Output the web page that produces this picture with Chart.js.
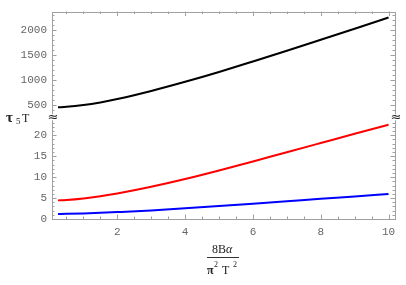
<!DOCTYPE html>
<html>
<head>
<meta charset="utf-8">
<script src="https://cdn.jsdelivr.net/npm/chart.js@4/dist/chart.umd.min.js"></script>
<style>
html, body { margin: 0; padding: 0; background: #fff; }
#wrap { width: 406px; height: 285px; }
</style>
</head>
<body>
<div id="wrap"><canvas id="chart"></canvas></div>
<script>
// values
const xVals = [0.25, 0.5, 1, 1.5, 2, 3, 4, 5, 6, 7, 8, 9, 10];
const blackVals = [446, 456, 492, 545, 612, 775, 958, 1155, 1365, 1580, 1800, 2022, 2245];
const redVals = [4.45, 4.55, 4.92, 5.45, 6.1, 7.7, 9.55, 11.6, 13.75, 15.95, 18.15, 20.35, 22.5];
const blueVals = [1.2, 1.23, 1.32, 1.47, 1.65, 2.05, 2.55, 3.1, 3.67, 4.25, 4.85, 5.4, 5.97];

const xTicks = [2, 4, 6, 8, 10];
const lowTicks = [0, 5, 10, 15, 20];
const highTicks = [500, 1000, 1500, 2000];

const tickFont = { family: 'Liberation Mono', size: 11 };
const tickColor = '#666';
const frameColor = '#a0a0a0';

function pts(ys) {
    return xVals.map((x, i) => ({ x: x, y: ys[i] }));
}

function fixTicks(list) {
    return scale => { scale.ticks = list.map(v => ({ value: v })); };
}

// frame, inward tick marks, break marks and the axis titles
const framePlugin = {
    id: 'frame',
    beforeDatasetsDraw(chart) {
        const ctx = chart.ctx;
        const a = chart.chartArea;
        const sx = chart.scales.x, lo = chart.scales.yLow, hi = chart.scales.yHigh;
        ctx.save();
        ctx.strokeStyle = frameColor;
        ctx.lineWidth = 1;
        ctx.strokeRect(Math.round(a.left) + 0.5, Math.round(a.top) + 0.5,
            Math.round(a.right - a.left), Math.round(a.bottom - a.top));

        function hTick(y, len) {
            y = Math.round(y) + 0.5;
            ctx.beginPath();
            ctx.moveTo(a.left, y); ctx.lineTo(a.left + len, y);
            ctx.moveTo(a.right, y); ctx.lineTo(a.right - len, y);
            ctx.stroke();
        }
        function vTick(x, len) {
            x = Math.round(x) + 0.5;
            ctx.beginPath();
            ctx.moveTo(x, a.bottom); ctx.lineTo(x, a.bottom - len);
            ctx.moveTo(x, a.top); ctx.lineTo(x, a.top + len);
            ctx.stroke();
        }
        for (let v = 0.5; v <= 10; v += 0.5) {
            vTick(sx.getPixelForValue(v), v % 2 === 0 ? 4.5 : 2.5);
        }
        for (let v = 0; v <= 24; v++) {
            hTick(lo.getPixelForValue(v), v % 5 === 0 ? 4.5 : 2.5);
        }
        for (let v = 300; v <= 2300; v += 100) {
            hTick(hi.getPixelForValue(v), v % 500 === 0 ? 4.5 : 2.5);
        }

        // break marks
        const yb = lo.top;
        ctx.fillStyle = '#fff';
        ctx.fillRect(a.left - 3, yb - 3, 7, 6);
        ctx.fillRect(a.right - 3, yb - 3, 7, 6);
        ctx.fillStyle = '#222';
        ctx.font = '13px "DejaVu Sans"';
        ctx.textAlign = 'center';
        ctx.textBaseline = 'middle';
        ctx.fillText('\u2248', a.left + 1, yb);
        ctx.fillText('\u2248', a.right + 1, yb);

        // y title
        ctx.textAlign = 'left';
        ctx.textBaseline = 'alphabetic';
        ctx.fillStyle = '#222';
        ctx.font = 'bold 15px "Liberation Serif"';
        ctx.fillText('\u03c4', 6, 122);
        ctx.font = '9px "Liberation Serif"';
        ctx.fillText('5', 16, 124);
        ctx.font = '12px "Liberation Serif"';
        ctx.fillText('T', 22, 122);

        // x title as a fraction
        ctx.font = '12px "Liberation Serif"';
        ctx.fillText('8', 212, 253);
        ctx.fillText('B', 218, 253);
        ctx.font = 'italic 12px "Liberation Serif"';
        ctx.fillText('\u03b1', 226, 253);
        ctx.strokeStyle = '#333';
        ctx.beginPath();
        ctx.moveTo(207, 257.5); ctx.lineTo(239, 257.5);
        ctx.stroke();
        ctx.font = 'bold 12px "Liberation Serif"';
        ctx.fillText('\u03c0', 207, 274);
        ctx.font = '12px "Liberation Serif"';
        ctx.fillText('T', 222, 274);
        ctx.font = '8px "Liberation Serif"';
        ctx.fillText('2', 214, 267);
        ctx.fillText('2', 233, 267);
        ctx.restore();
    }
};

const plainLabel = v => String(v);

new Chart(document.getElementById('chart'), {
    type: 'line',
    data: {
        datasets: [
            { data: pts(blackVals), yAxisID: 'yHigh', borderColor: '#000' },
            { data: pts(redVals), yAxisID: 'yLow', borderColor: '#ff0000' },
            { data: pts(blueVals), yAxisID: 'yLow', borderColor: '#0000ff' }
        ]
    },
    options: {
        responsive: true,
        maintainAspectRatio: false,
        animation: false,
        layout: { padding: { left: 0, right: 11, top: 11, bottom: 0 } },
        elements: {
            line: { borderWidth: 2, cubicInterpolationMode: 'monotone' },
            point: { radius: 0 }
        },
        plugins: { legend: { display: false }, tooltip: { enabled: false } },
        scales: {
            x: {
                type: 'linear',
                min: 0.074,
                max: 10.19,
                afterBuildTicks: fixTicks(xTicks),
                afterFit: s => { s.height = 66; },
                grid: { display: false, drawTicks: false },
                border: { display: false },
                ticks: { font: tickFont, color: tickColor, padding: 6, callback: plainLabel }
            },
            yLow: {
                type: 'linear',
                position: 'left',
                stack: 'y',
                stackWeight: 102,
                min: 0,
                max: 24.3,
                afterBuildTicks: fixTicks(lowTicks),
                afterFit: s => { s.width = 52; },
                grid: { display: false, drawTicks: false },
                border: { display: false },
                ticks: { font: tickFont, color: tickColor, padding: 5, callback: plainLabel }
            },
            yHigh: {
                type: 'linear',
                position: 'left',
                stack: 'y',
                stackWeight: 106,
                min: 247,
                max: 2364,
                afterBuildTicks: fixTicks(highTicks),
                afterFit: s => { s.width = 52; },
                grid: { display: false, drawTicks: false },
                border: { display: false },
                ticks: { font: tickFont, color: tickColor, padding: 5, callback: plainLabel }
            }
        }
    },
    plugins: [framePlugin]
});
</script>
</body>
</html>
